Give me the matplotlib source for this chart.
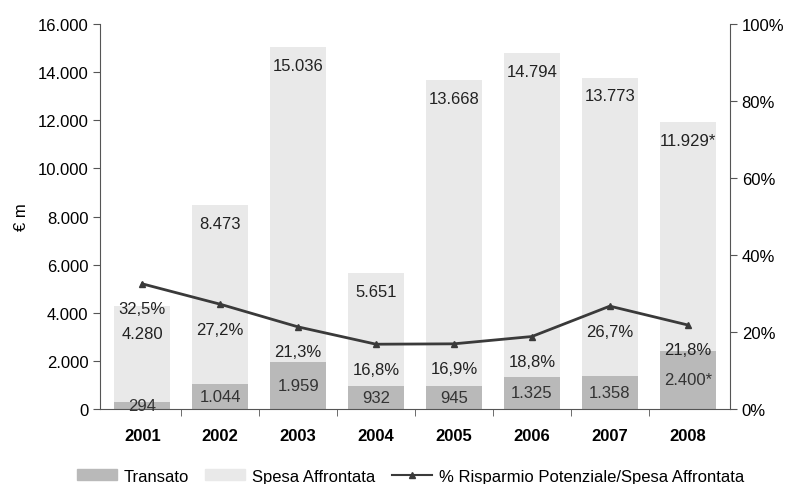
import numpy as np
import matplotlib.pyplot as plt
from matplotlib.ticker import FuncFormatter, FixedLocator
from matplotlib.lines import Line2D
from matplotlib.patches import Patch

plt.rcParams['font.family'] = ['Liberation Sans', 'DejaVu Sans']

# data
years = ['2001', '2002', '2003', '2004', '2005', '2006', '2007', '2008']
spesa = [4280, 8473, 15036, 5651, 13668, 14794, 13773, 11929]
transato = [294, 1044, 1959, 932, 945, 1325, 1358, 2400]
risparmio = [32.5, 27.2, 21.3, 16.8, 16.9, 18.8, 26.7, 21.8]
star = [False] * 7 + [True]  # 2008 values are estimates

def dotted(v):
    return f'{v:,.0f}'.replace(',', '.')

fig = plt.figure(figsize=(7.89, 4.85), dpi=100)
ax = fig.add_axes([0.127, 0.155, 0.798, 0.793])
x = np.arange(len(years))

ax.bar(x, spesa, width=0.72, color='#e9e9e9', zorder=1)
ax.bar(x, transato, width=0.72, color='#b9b9b9', zorder=2)

for i in range(len(years)):
    s = dotted(spesa[i]) + ('*' if star[i] else '')
    # first label sits lower so it clears the percentage above it
    off = -20 if i == 0 else -13
    ax.annotate(s, (x[i], spesa[i]), xytext=(0, off), textcoords='offset points',
                ha='center', va='center', fontsize=12, color='#222222', zorder=5)
    t = dotted(transato[i]) + ('*' if star[i] else '')
    ax.text(x[i], max(transato[i] / 2, 150), t, ha='center', va='center',
            fontsize=12, color='#333333', zorder=5)

ax.set_xlim(-0.54, len(years) - 0.46)
ax.set_ylim(0, 16000)
ax.set_yticks(range(0, 16001, 2000))
ax.yaxis.set_major_formatter(FuncFormatter(lambda v, p: dotted(v)))
ax.set_xticks(x)
ax.set_xticklabels(years, fontweight='bold', fontsize=12)
ax.xaxis.set_minor_locator(FixedLocator(x[:-1] + 0.5))
ax.tick_params(axis='x', which='major', length=0, pad=14)
ax.tick_params(axis='x', which='minor', length=5, color='#555555')
ax.tick_params(axis='y', labelsize=12, length=5, color='#555555')
ax.set_ylabel('€ m', fontsize=12, labelpad=6)
for sp in ['top', 'right']:
    ax.spines[sp].set_visible(False)
for sp in ['left', 'bottom']:
    ax.spines[sp].set_color('#555555')

ax2 = ax.twinx()
ax2.plot(x, risparmio, color='#3a3a3a', lw=2, marker='^', markersize=5, zorder=6)
for i in range(len(years)):
    ax2.annotate(f'{risparmio[i]:.1f}%'.replace('.', ','), (x[i], risparmio[i]),
                 xytext=(0, -18), textcoords='offset points', ha='center', va='center',
                 fontsize=12, color='#222222')
ax2.set_ylim(0, 100)
ax2.set_yticks(range(0, 101, 20))
ax2.yaxis.set_major_formatter(FuncFormatter(lambda v, p: f'{v:.0f}%'))
ax2.tick_params(axis='y', labelsize=12, length=5, color='#555555')
for sp in ['top', 'left', 'bottom']:
    ax2.spines[sp].set_visible(False)
ax2.spines['right'].set_color('#555555')

handles = [Patch(color='#b9b9b9'), Patch(color='#e9e9e9'),
           Line2D([], [], color='#3a3a3a', marker='^', markersize=4, lw=1.5)]
labels = ['Transato', 'Spesa Affrontata', '% Risparmio Potenziale/Spesa Affrontata']
fig.legend(handles, labels, loc='lower center', bbox_to_anchor=(0.52, -0.03), ncol=3,
           frameon=False, fontsize=12, handlelength=2.4, handleheight=0.6,
           columnspacing=1.0, handletextpad=0.4)

fig.savefig('out.png', dpi=100)
